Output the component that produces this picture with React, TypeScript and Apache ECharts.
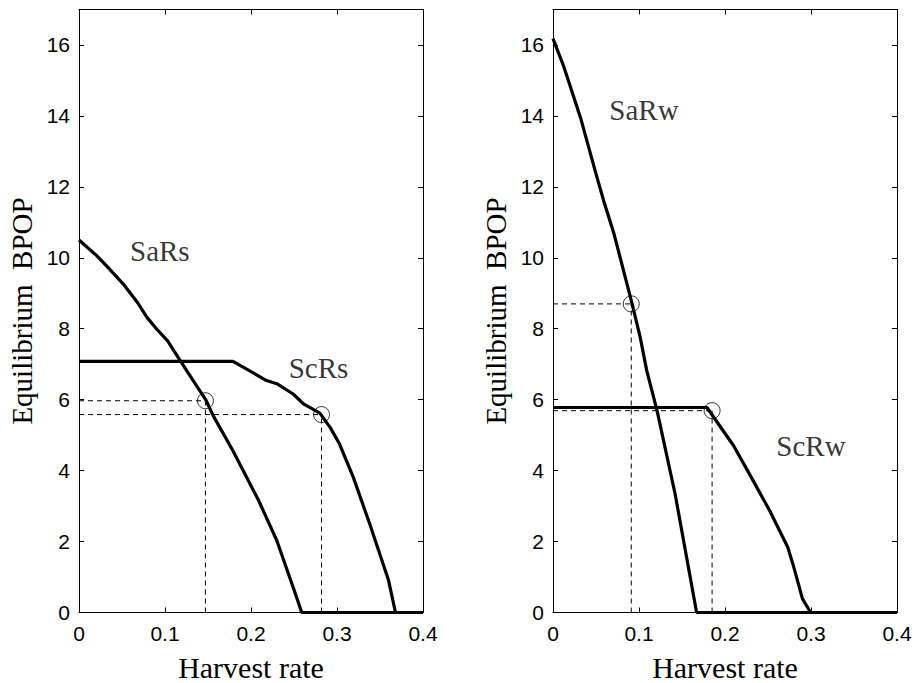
import React, { useEffect, useRef } from "react";
import * as echarts from "echarts";

// ---- Data ----
const xTicks = [0, 0.1, 0.2, 0.3, 0.4];
const yTicks = [0, 2, 4, 6, 8, 10, 12, 14, 16];

// Left panel
const saRsX = [0, 0.0206, 0.032, 0.0515, 0.068, 0.079, 0.09, 0.103, 0.119, 0.129, 0.148, 0.156, 0.179, 0.209, 0.23, 0.249, 0.259, 0.4];
const saRsY = [10.5, 10.06, 9.77, 9.26, 8.74, 8.32, 8.0, 7.66, 7.05, 6.68, 5.97, 5.55, 4.56, 3.15, 2.03, 0.71, 0, 0];
const scRsX = [0, 0.179, 0.195, 0.218, 0.23, 0.249, 0.261, 0.28, 0.292, 0.303, 0.319, 0.338, 0.36, 0.368, 0.38, 0.4];
const scRsY = [7.08, 7.08, 6.86, 6.54, 6.45, 6.16, 5.88, 5.62, 5.22, 4.75, 3.81, 2.5, 0.9, 0, 0, 0];
const leftCircleX = [0.147, 0.282];
const leftCircleY = [5.97, 5.58];

// Right panel
const saRwX = [0, 0.0124, 0.032, 0.0496, 0.059, 0.071, 0.092, 0.1015, 0.109, 0.121, 0.142, 0.167, 0.4];
const saRwY = [16.18, 15.4, 13.95, 12.4, 11.6, 10.67, 8.7, 7.75, 6.82, 5.69, 3.34, 0, 0];
const scRwX = [0, 0.179, 0.21, 0.2306, 0.252, 0.273, 0.28, 0.29, 0.2995, 0.4];
const scRwY = [5.78, 5.78, 4.7, 3.81, 2.87, 1.84, 1.28, 0.39, 0, 0];
const rightCircleX = [0.091, 0.185];
const rightCircleY = [8.7, 5.69];

// Curve name annotations
const leftLabelNames = ["SaRs", "ScRs"];
const rightLabelNames = ["SaRw", "ScRw"];

// Annotation anchor positions (data coordinates)
const leftLabelPos = [[0.094, 10.2], [0.2785, 6.89]];
const rightLabelPos = [[0.1058, 14.17], [0.3, 4.7]];

const pairs = (xs: number[], ys: number[]) => xs.map((x, i) => [x, ys[i]]);

export default function App() {
  const ref = useRef<HTMLDivElement>(null);

  useEffect(() => {
    if (!ref.current) return;
    const chart = echarts.init(ref.current, null, { renderer: "svg" });

    const black = "#000";
    const tickFont = { color: black, fontSize: 21, fontFamily: "Liberation Sans, Arial, sans-serif" };
    const serif = "Liberation Serif, Times New Roman, serif";
    const nameFont = { color: black, fontSize: 30, lineHeight: 30, fontFamily: serif };
    const curveFont = { color: black, fontSize: 29, fontFamily: serif };

    const xAxisFor = (gi: number, pos: "bottom" | "top") => ({
      type: "value",
      gridIndex: gi,
      position: pos,
      min: xTicks[0],
      max: xTicks[xTicks.length - 1],
      interval: xTicks[1] - xTicks[0],
      axisLine: { show: true, onZero: false, lineStyle: { color: black, width: 1 } },
      axisTick: { show: true, inside: true, length: 5, lineStyle: { color: black, width: 1 } },
      axisLabel: {
        show: pos === "bottom",
        ...tickFont,
        margin: 10,
        formatter: (v: number) => (v === 0 ? "0" : v.toFixed(1)),
      },
      splitLine: { show: false },
      ...(pos === "bottom"
        ? { name: "Harvest rate", nameLocation: "middle", nameGap: 40, nameTextStyle: nameFont }
        : {}),
    });

    const yAxisFor = (gi: number, pos: "left" | "right") => ({
      type: "value",
      gridIndex: gi,
      position: pos,
      min: 0,
      max: 17,
      interval: yTicks[1] - yTicks[0],
      axisLine: { show: true, onZero: false, lineStyle: { color: black, width: 1 } },
      axisTick: { show: true, inside: true, length: 5, lineStyle: { color: black, width: 1 } },
      axisLabel: {
        show: pos === "left",
        ...tickFont,
        margin: 9,
        showMaxLabel: false,
        formatter: (v: number) => (yTicks.includes(v) ? String(v) : ""),
      },
      splitLine: { show: false },
      ...(pos === "left"
        ? { name: "Equilibrium  BPOP", nameLocation: "middle", nameGap: 43, nameTextStyle: { ...nameFont, fontSize: 29, lineHeight: 29 } }
        : {}),
    });

    const curve = (xs: number[], ys: number[], xi: number, yi: number) => ({
      type: "line",
      xAxisIndex: xi,
      yAxisIndex: yi,
      data: pairs(xs, ys),
      showSymbol: false,
      symbol: "none",
      clip: false,
      lineStyle: { color: black, width: 3.2 },
      z: 4,
    });

    const guides = (cx: number[], cy: number[], xi: number, yi: number) => {
      const out: any[] = [];
      cx.forEach((x, i) => {
        const y = cy[i];
        out.push({
          type: "line", xAxisIndex: xi, yAxisIndex: yi, symbol: "none", showSymbol: false, clip: false,
          data: [[0, y], [x, y]], lineStyle: { color: black, width: 1, type: [5, 4] }, z: 3,
        });
        out.push({
          type: "line", xAxisIndex: xi, yAxisIndex: yi, symbol: "none", showSymbol: false, clip: false,
          data: [[x, 0], [x, y]], lineStyle: { color: black, width: 1, type: [5, 4] }, z: 3,
        });
      });
      return out;
    };

    const circles = (cx: number[], cy: number[], xi: number, yi: number) => ({
      type: "scatter",
      xAxisIndex: xi,
      yAxisIndex: yi,
      symbol: "circle",
      symbolSize: 16,
      data: pairs(cx, cy),
      itemStyle: { color: "rgba(0,0,0,0)", borderColor: black, borderWidth: 1 },
      z: 5,
    });

    const labels = (names: string[], pos: number[][], xi: number, yi: number) => ({
      type: "scatter",
      xAxisIndex: xi,
      yAxisIndex: yi,
      symbolSize: 1,
      itemStyle: { color: "rgba(0,0,0,0)" },
      data: names.map((n, i) => ({ name: n, value: pos[i] })),
      label: { show: true, position: "inside", formatter: "{b}", ...curveFont },
      z: 6,
    });

    chart.setOption({
      animation: false,
      backgroundColor: "#fff",
      grid: [
        { left: 79, top: 9.5, width: 344, height: 603, outerBoundsMode: "none", containLabel: false },
        { left: 553, top: 9.5, width: 344, height: 603, outerBoundsMode: "none", containLabel: false },
      ],
      xAxis: [xAxisFor(0, "bottom"), xAxisFor(0, "top"), xAxisFor(1, "bottom"), xAxisFor(1, "top")],
      yAxis: [yAxisFor(0, "left"), yAxisFor(0, "right"), yAxisFor(1, "left"), yAxisFor(1, "right")],
      series: [
        ...guides(leftCircleX, leftCircleY, 0, 0),
        curve(saRsX, saRsY, 0, 0),
        curve(scRsX, scRsY, 0, 0),
        circles(leftCircleX, leftCircleY, 0, 0),
        labels(leftLabelNames, leftLabelPos, 0, 0),
        ...guides(rightCircleX, rightCircleY, 2, 2),
        curve(saRwX, saRwY, 2, 2),
        curve(scRwX, scRwY, 2, 2),
        circles(rightCircleX, rightCircleY, 2, 2),
        labels(rightLabelNames, rightLabelPos, 2, 2),
      ],
    });

    return () => chart.dispose();
  }, []);

  return (
    <div
      ref={ref}
      style={{ position: "absolute", left: 0, top: 0, width: 914, height: 683, background: "#fff" }}
    />
  );
}
